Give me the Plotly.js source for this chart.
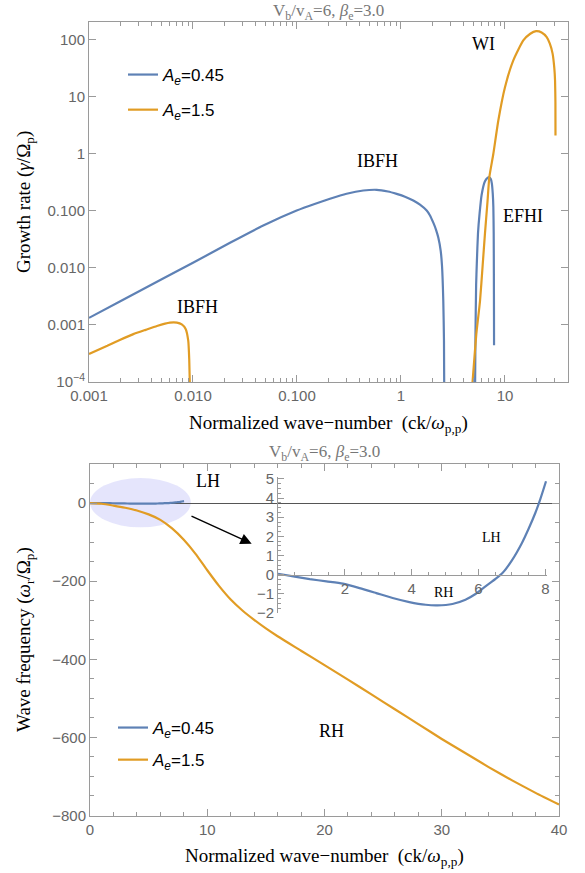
<!DOCTYPE html>
<html>
<head>
<meta charset="utf-8">
<script src="https://cdn.plot.ly/plotly-3.0.1.min.js"></script>
<style>
  html, body { margin: 0; padding: 0; background: #fff; }
  #chart { width: 585px; height: 873px; }
</style>
</head>
<body>
<div id="chart"></div>
<script>
// ---- Growth rate, A_e = 0.45 (IBFH branch and EFHI branch) ----
const kBlueIBFH = [0.001, 0.002, 0.005, 0.01, 0.0227, 0.0474, 0.0993, 0.15, 0.2075, 0.30, 0.434, 0.584, 0.75, 0.909, 1.093, 1.313, 1.523, 1.766, 1.901, 2.045, 2.17, 2.284, 2.408, 2.479, 2.551, 2.591, 2.608];
const gBlueIBFH = [0.00133, 0.0026, 0.0063, 0.0123, 0.0275, 0.0552, 0.101, 0.133, 0.1625, 0.199, 0.227, 0.234, 0.218, 0.198, 0.177, 0.152, 0.128, 0.101, 0.083, 0.062, 0.047, 0.034, 0.0201, 0.011, 0.00267, 0.00053, 0.00005];
const kBlueEFHI = [5.15, 5.2, 5.28, 5.36, 5.5, 5.7, 5.96, 6.42, 6.8, 7.07, 7.3, 7.48, 7.63, 7.73, 7.79, 7.82, 7.84, 7.85];
const gBlueEFHI = [0.00005, 0.0006, 0.005, 0.012, 0.04, 0.09, 0.19, 0.33, 0.38, 0.389, 0.36, 0.30, 0.2, 0.116, 0.04, 0.008, 0.0015, 0.00044];

// ---- Growth rate, A_e = 1.5 (IBFH branch and WI branch) ----
const kOrangeIBFH = [0.001, 0.0015, 0.002, 0.00267, 0.0035, 0.0045, 0.006, 0.007, 0.0078, 0.0085, 0.009, 0.0092, 0.0094];
const gOrangeIBFH = [0.00031, 0.00043, 0.00055, 0.00069, 0.00082, 0.00096, 0.0011, 0.0011, 0.00102, 0.00085, 0.00053, 0.00025, 0.00005];
const kOrangeWI = [4.83, 5.0, 5.3, 5.75, 6.1, 6.42, 6.8, 7.07, 7.73, 8.63, 10.0, 12.0, 15.0, 17.5, 19.9, 22.5, 25.2, 27.0, 28.7, 29.8, 30.3, 30.55, 30.6];
const gOrangeWI = [0.00008, 0.00018, 0.00069, 0.0026, 0.011, 0.04, 0.15, 0.389, 1.0, 3.84, 14.7, 43, 97, 127, 141, 134, 111, 85, 57, 32, 19.3, 8, 2.1];

// ---- Real frequency ----
const kBlueFreq = [0, 0.5, 0.95, 1.45, 1.94, 2.44, 2.94, 3.43, 3.93, 4.42, 4.77, 5.22, 5.61, 5.91, 6.21, 6.51, 6.71, 7.0, 7.3, 7.5, 7.7, 7.85, 8.02];
const wBlueFreq = [0.05, -0.1, -0.23, -0.35, -0.47, -0.70, -0.96, -1.22, -1.43, -1.57, -1.60, -1.53, -1.31, -1.01, -0.61, -0.22, 0.07, 0.75, 1.66, 2.4, 3.22, 3.95, 4.88];
const kOrangeFreq = [0, 1, 2, 3, 4, 5, 6, 7, 8, 9, 10, 11, 12, 13, 14, 15, 16, 18, 20, 22, 24, 26, 28, 30, 32, 34, 36, 38, 40];
const wOrangeFreq = [0, -1.7, -6.5, -12, -19, -29, -43, -65, -94, -130, -172, -212, -247, -275, -299, -321, -341, -378, -415, -452, -490, -528, -566, -604, -640, -676, -710, -742, -772];

// ---- Tick labels ----
const growthXTicks = [0.001, 0.01, 0.1, 1, 10];
const growthXText = ['0.001', '0.010', '0.100', '1', '10'];
const growthYTicks = [1e-4, 0.001, 0.01, 0.1, 1, 10, 100];
const growthYText = ['10<sup>\u22124</sup>', '0.001', '0.010', '0.100', '1', '10', '100'];
const insetXTicks = [2, 4, 6, 8];

const legendNames = ['<i>A</i><sub><i>e</i></sub>=0.45', '<i>A</i><sub><i>e</i></sub>=1.5'];

const BLUE = '#5e81b5';
const ORANGE = '#e19c24';
const FRAME = '#9a9a9a';
const TICKFONT = { family: 'Liberation Sans, Arial, sans-serif', size: 15, color: '#666' };
const SERIF = 'Liberation Serif, Times New Roman, serif';

const W = 585, H = 873;
const px = v => v / W;
const py = v => 1 - v / H;

// minor tick positions for the log axes (2..9 per decade)
function logMinors(lo, hi) {
  const out = [];
  for (let e = lo; e <= hi; e++) {
    for (let m = 2; m <= 9; m++) out.push(m * Math.pow(10, e));
  }
  return out;
}

const join = (a, b) => a.concat([null], b);
const smooth = (c, s) => ({ color: c, width: 2.2, shape: 'spline', smoothing: s });

const traces = [
  { x: join(kBlueIBFH, kBlueEFHI), y: join(gBlueIBFH, gBlueEFHI), name: legendNames[0],
    mode: 'lines', line: smooth(BLUE, 0.5), xaxis: 'x', yaxis: 'y', legend: 'legend', legendgroup: 'a', connectgaps: false },
  { x: join(kOrangeIBFH, kOrangeWI), y: join(gOrangeIBFH, gOrangeWI), name: legendNames[1],
    mode: 'lines', line: smooth(ORANGE, 0.5), xaxis: 'x', yaxis: 'y', legend: 'legend', legendgroup: 'b', connectgaps: false },
  { x: kBlueFreq, y: wBlueFreq, name: legendNames[0],
    mode: 'lines', line: smooth(BLUE, 0.6), xaxis: 'x2', yaxis: 'y2', legend: 'legend2', legendgroup: 'c' },
  { x: kOrangeFreq, y: wOrangeFreq, name: legendNames[1],
    mode: 'lines', line: smooth(ORANGE, 0.6), xaxis: 'x2', yaxis: 'y2', legend: 'legend2', legendgroup: 'd' },
  { x: kBlueFreq, y: wBlueFreq, showlegend: false,
    mode: 'lines', line: smooth(BLUE, 0.6), xaxis: 'x3', yaxis: 'y3' }
];

const frameAxis = {
  showline: true, linecolor: FRAME, linewidth: 1, mirror: 'ticks',
  ticks: 'inside', ticklen: 7, tickcolor: FRAME, tickwidth: 1,
  showgrid: false, zeroline: false, tickfont: TICKFONT
};

function label(text, x, y, size, extra) {
  return Object.assign({
    text: text, xref: 'paper', yref: 'paper', x: px(x), y: py(y),
    xanchor: 'center', yanchor: 'middle', showarrow: false,
    font: { family: SERIF, size: size, color: '#000' }
  }, extra || {});
}

const TITLEFONT = { family: SERIF, size: 17, color: '#777' };

const layout = {
  width: W, height: H,
  margin: { l: 0, r: 0, t: 0, b: 0 },
  paper_bgcolor: '#fff', plot_bgcolor: 'rgba(0,0,0,0)',
  showlegend: true,
  xaxis: Object.assign({}, frameAxis, {
    type: 'log', domain: [px(89), px(568)], range: [-3, 1.606], anchor: 'y',
    tickmode: 'array', tickvals: growthXTicks, ticktext: growthXText,
    minor: { tickmode: 'array', tickvals: logMinors(-3, 1), ticks: 'inside', ticklen: 4, tickcolor: FRAME, showgrid: false }
  }),
  yaxis: Object.assign({}, frameAxis, {
    type: 'log', domain: [py(382), py(22)], range: [-4, 2.31], anchor: 'x',
    tickmode: 'array', tickvals: growthYTicks, ticktext: growthYText
  }),
  xaxis2: Object.assign({}, frameAxis, {
    domain: [px(90), px(559)], range: [0, 40], anchor: 'y2',
    tickmode: 'linear', tick0: 0, dtick: 10,
    minor: { dtick: 2, ticks: 'inside', ticklen: 4, tickcolor: FRAME, showgrid: false }
  }),
  yaxis2: Object.assign({}, frameAxis, {
    domain: [py(815.5), py(464)], range: [-800, 100], anchor: 'x2',
    tickmode: 'linear', tick0: 0, dtick: 200,
    zeroline: true, zerolinecolor: '#555', zerolinewidth: 1,
    minor: { dtick: 50, ticks: 'inside', ticklen: 4, tickcolor: FRAME, showgrid: false }
  }),
  xaxis3: {
    domain: [px(278), px(547)], range: [0, 8.05], anchor: 'free', position: py(575),
    showline: true, linecolor: FRAME, linewidth: 1, ticks: 'inside', ticklen: 6, tickcolor: FRAME,
    tickmode: 'array', tickvals: insetXTicks, showgrid: false, zeroline: false, tickfont: TICKFONT,
    minor: { tickmode: 'linear', tick0: 0, dtick: 0.5, ticks: 'inside', ticklen: 3, tickcolor: FRAME, showgrid: false }
  },
  yaxis3: {
    domain: [py(613), py(477)], range: [-2, 5.1], anchor: 'x3',
    showline: true, linecolor: FRAME, linewidth: 1, ticks: 'inside', ticklen: 6, tickcolor: FRAME,
    tickmode: 'linear', tick0: 0, dtick: 1, showgrid: false, zeroline: false, tickfont: TICKFONT,
    minor: { dtick: 0.25, ticks: 'inside', ticklen: 3, tickcolor: FRAME, showgrid: false }
  },
  legend: {
    x: px(123), y: py(57), xanchor: 'left', yanchor: 'top',
    bgcolor: 'rgba(0,0,0,0)', borderwidth: 0, tracegroupgap: 10,
    font: { family: 'Liberation Sans, Arial, sans-serif', size: 17, color: '#000' }
  },
  legend2: {
    x: px(113), y: py(710), xanchor: 'left', yanchor: 'top',
    bgcolor: 'rgba(0,0,0,0)', borderwidth: 0, tracegroupgap: 7,
    font: { family: 'Liberation Sans, Arial, sans-serif', size: 17, color: '#000' }
  },
  shapes: [
    { type: 'circle', xref: 'x2', yref: 'y2', x0: 0, x1: 8.6, y0: -62, y1: 64,
      fillcolor: 'rgba(150,150,245,0.25)', line: { width: 0 }, layer: 'below' }
  ],
  annotations: [
    label('V<sub>b</sub>/v<sub>A</sub>=6, <i>\u03b2</i><sub>e</sub>=3.0', 328.5, 12, 17, { font: TITLEFONT }),
    label('V<sub>b</sub>/v<sub>A</sub>=6, <i>\u03b2</i><sub>e</sub>=3.0', 324.5, 453, 17, { font: TITLEFONT }),
    label('Normalized wave\u2212number\u00a0\u00a0(ck/<i>\u03c9</i><sub>p,p</sub>)', 328.5, 424, 19),
    label('Normalized wave\u2212number\u00a0\u00a0(ck/<i>\u03c9</i><sub>p,p</sub>)', 324.5, 857, 19),
    label('Growth rate (<i>\u03b3</i>/\u03a9<sub>p</sub>)', 25, 202, 19, { textangle: -90 }),
    label('Wave frequency (<i>\u03c9</i><sub>r</sub>/\u03a9<sub>p</sub>)', 25, 640, 19, { textangle: -90 }),
    label('WI', 483, 44, 18),
    label('IBFH', 377, 161, 18),
    label('EFHI', 523, 216, 18),
    label('IBFH', 197, 307, 18),
    label('LH', 208, 481, 18),
    label('RH', 331, 731, 18),
    label('LH', 491, 537, 14),
    label('RH', 443, 592, 14),
    { text: '', xref: 'x2', yref: 'y2', x: 13.79, y: -104, axref: 'x2', ayref: 'y2', ax: 8.53, ay: -31.7,
      showarrow: true, arrowhead: 2, arrowsize: 1.6, arrowwidth: 1.4, arrowcolor: '#000', standoff: 0 }
  ]
};

Plotly.newPlot('chart', traces, layout, { staticPlot: true, displayModeBar: false });
</script>
</body>
</html>
